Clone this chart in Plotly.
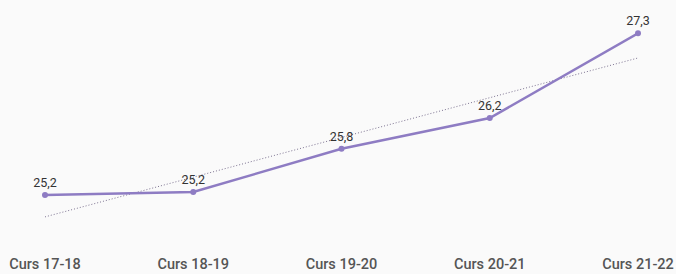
import numpy as np
import plotly.graph_objects as go

categories = ["Curs 17-18", "Curs 18-19", "Curs 19-20", "Curs 20-21", "Curs 21-22"]
values = [25.2, 25.24, 25.8, 26.2, 27.3]
labels = ["25,2", "25,2", "25,8", "26,2", "27,3"]

xi = np.arange(len(values))
slope, intercept = np.polyfit(xi, values, 1)
trend = [intercept + slope * i for i in xi]

LINE = "#8e7cc3"

fig = go.Figure()
fig.add_trace(go.Scatter(
    x=categories, y=trend, mode="lines",
    line=dict(color="#7d7391", width=1, dash="1px,2px"),
    hoverinfo="skip", showlegend=False, cliponaxis=False,
))
fig.add_trace(go.Scatter(
    x=categories, y=values, mode="lines+markers+text",
    line=dict(color=LINE, width=2.5),
    marker=dict(color=LINE, size=6),
    text=labels, textposition="top center",
    textfont=dict(family="Roboto", size=12.5, color="#333333"),
    showlegend=False, cliponaxis=False,
))

fig.update_layout(
    width=676, height=274,
    margin=dict(l=45, r=38, t=10, b=24),
    paper_bgcolor="#fafafa", plot_bgcolor="#fafafa",
    font=dict(family="Roboto"),
    xaxis=dict(
        type="category", range=[0, 4], showgrid=False, zeroline=False,
        showline=False, ticks="outside", ticklen=1, tickcolor="rgba(0,0,0,0)",
        automargin=False,
        tickfont=dict(family="Roboto", size=14.5, color="#555555", weight=500),
    ),
    yaxis=dict(range=[24.486, 27.603], visible=False, automargin=False),
)

fig.write_html("out.html", config={"displayModeBar": False},
               post_script="document.body.style.margin='0';")
